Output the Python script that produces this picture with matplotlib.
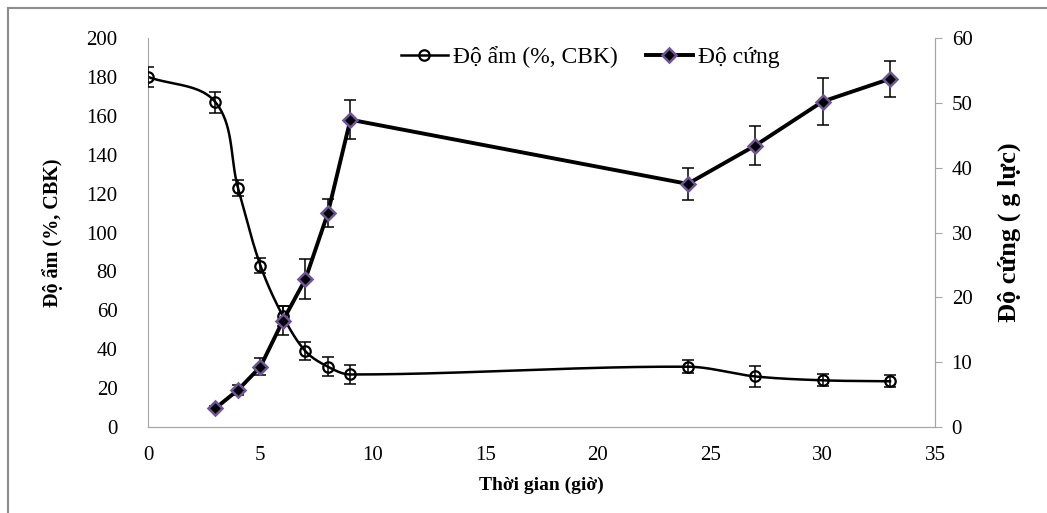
import numpy as np
import matplotlib
matplotlib.use('Agg')
import matplotlib.pyplot as plt
from matplotlib.lines import Line2D

plt.rcParams['font.family'] = ['Liberation Serif', 'DejaVu Serif']

# data
time_h = [0, 3, 4, 5, 6, 7, 8, 9, 24, 27, 30, 33]
moisture = [180, 167, 123, 83, 57, 39, 31, 27, 31, 26, 24, 23.5]
moisture_err = [5, 5.4, 4, 4, 5, 4.5, 5, 5, 3.4, 5.5, 3, 3]

time_hard = [3, 4, 5, 6, 7, 8, 9, 24, 27, 30, 33]
hardness = [2.9, 5.7, 9.3, 16.4, 22.8, 33, 47.4, 37.5, 43.4, 50.2, 53.7]
hardness_err = [0.3, 0.8, 1.3, 2.2, 3.1, 2.2, 3.0, 2.5, 3.0, 3.6, 2.8]

x_ticks = [0, 5, 10, 15, 20, 25, 30, 35]
left_ticks = list(range(0, 201, 20))
right_ticks = list(range(0, 61, 10))


def smooth_line(ax, xs, ys, n=40):
    # bezier through points in display space, tangent = direction of neighbours
    pts = ax.transData.transform(np.column_stack([xs, ys]))
    m = len(pts)
    dirs = []
    for i in range(m):
        d = pts[min(i + 1, m - 1)] - pts[max(i - 1, 0)]
        dirs.append(d / np.linalg.norm(d))
    out = []
    t = np.linspace(0, 1, n)[:, None]
    for i in range(m - 1):
        p0, p3 = pts[i], pts[i + 1]
        L = np.linalg.norm(p3 - p0) / 3
        p1 = p0 + dirs[i] * L
        p2 = p3 - dirs[i + 1] * L
        out.append((1 - t) ** 3 * p0 + 3 * (1 - t) ** 2 * t * p1
                   + 3 * (1 - t) * t ** 2 * p2 + t ** 3 * p3)
    out = np.vstack(out)
    return ax.transData.inverted().transform(out)


fig = plt.figure(figsize=(10.47, 5.13), dpi=100)
ax = fig.add_axes([148 / 1047, 86 / 513, 787 / 1047, 389 / 513])
ax2 = ax.twinx()

ax.set_xlim(0, 35)
ax.set_ylim(0, 200)
ax2.set_ylim(0, 60)

grey = '#a6a6a6'
for a in (ax, ax2):
    for s in a.spines.values():
        s.set_color(grey)
    a.spines['top'].set_visible(False)
ax2.spines['left'].set_visible(False)

ax.set_xticks(x_ticks)
ax.set_yticks(left_ticks)
ax2.set_yticks(right_ticks)
ax.tick_params(axis='both', length=0, labelsize=15)
ax.tick_params(axis='y', pad=22)
ax.tick_params(axis='x', pad=14)
ax2.tick_params(axis='y', length=5, color=grey, labelsize=15, pad=7)

# moisture series (smoothed)
curve = smooth_line(ax, time_h, moisture)
ax.plot(curve[:, 0], curve[:, 1], color='black', lw=1.8, zorder=2)
ax.errorbar(time_h, moisture, yerr=moisture_err, fmt='none', ecolor='black',
            elinewidth=1.1, capsize=4, capthick=1.1, zorder=3)
ax.plot(time_h, moisture, ls='none', marker='o', ms=7.5, mfc='none',
        mec='black', mew=1.6, zorder=4)

# hardness series
ax2.plot(time_hard, hardness, color='black', lw=2.8, zorder=2)
ax2.errorbar(time_hard, hardness, yerr=hardness_err, fmt='none', ecolor='black',
             elinewidth=1.1, capsize=4, capthick=1.1, zorder=3)
ax2.plot(time_hard, hardness, ls='none', marker='D', ms=7, mfc='black',
         mec='#6e5498', mew=1.8, zorder=4)

ax.set_xlabel('Thời gian (giờ)', fontsize=14, fontweight='bold', labelpad=8)
ax.set_ylabel('Độ ẩm (%, CBK)', fontsize=14.5, fontweight='bold')
ax.yaxis.set_label_coords(-0.108, 0.5)
ax2.set_ylabel('Độ cứng ( g lực)', fontsize=19, fontweight='bold', labelpad=18)

handles = [
    Line2D([], [], color='black', lw=1.8, marker='o', ms=7.5, mfc='none', mec='black', mew=1.6),
    Line2D([], [], color='black', lw=2.8, marker='D', ms=7, mfc='black', mec='#6e5498', mew=1.8),
]
fig.legend(handles, ['Độ ẩm (%, CBK)', 'Độ cứng'], loc='center',
           bbox_to_anchor=(590 / 1047, 1 - 57 / 513), ncol=2, frameon=False,
           fontsize=17, handlelength=2.0, handletextpad=0.2, columnspacing=1.2)

# outer frame (left and top edges visible)
fig.add_artist(Line2D([8 / 1047, 8 / 1047], [0, 1 - 8 / 513], color='#8c8c8c', lw=1.5))
fig.add_artist(Line2D([8 / 1047, 1], [1 - 8 / 513, 1 - 8 / 513], color='#8c8c8c', lw=1.5))

fig.savefig('out.png', dpi=100)
